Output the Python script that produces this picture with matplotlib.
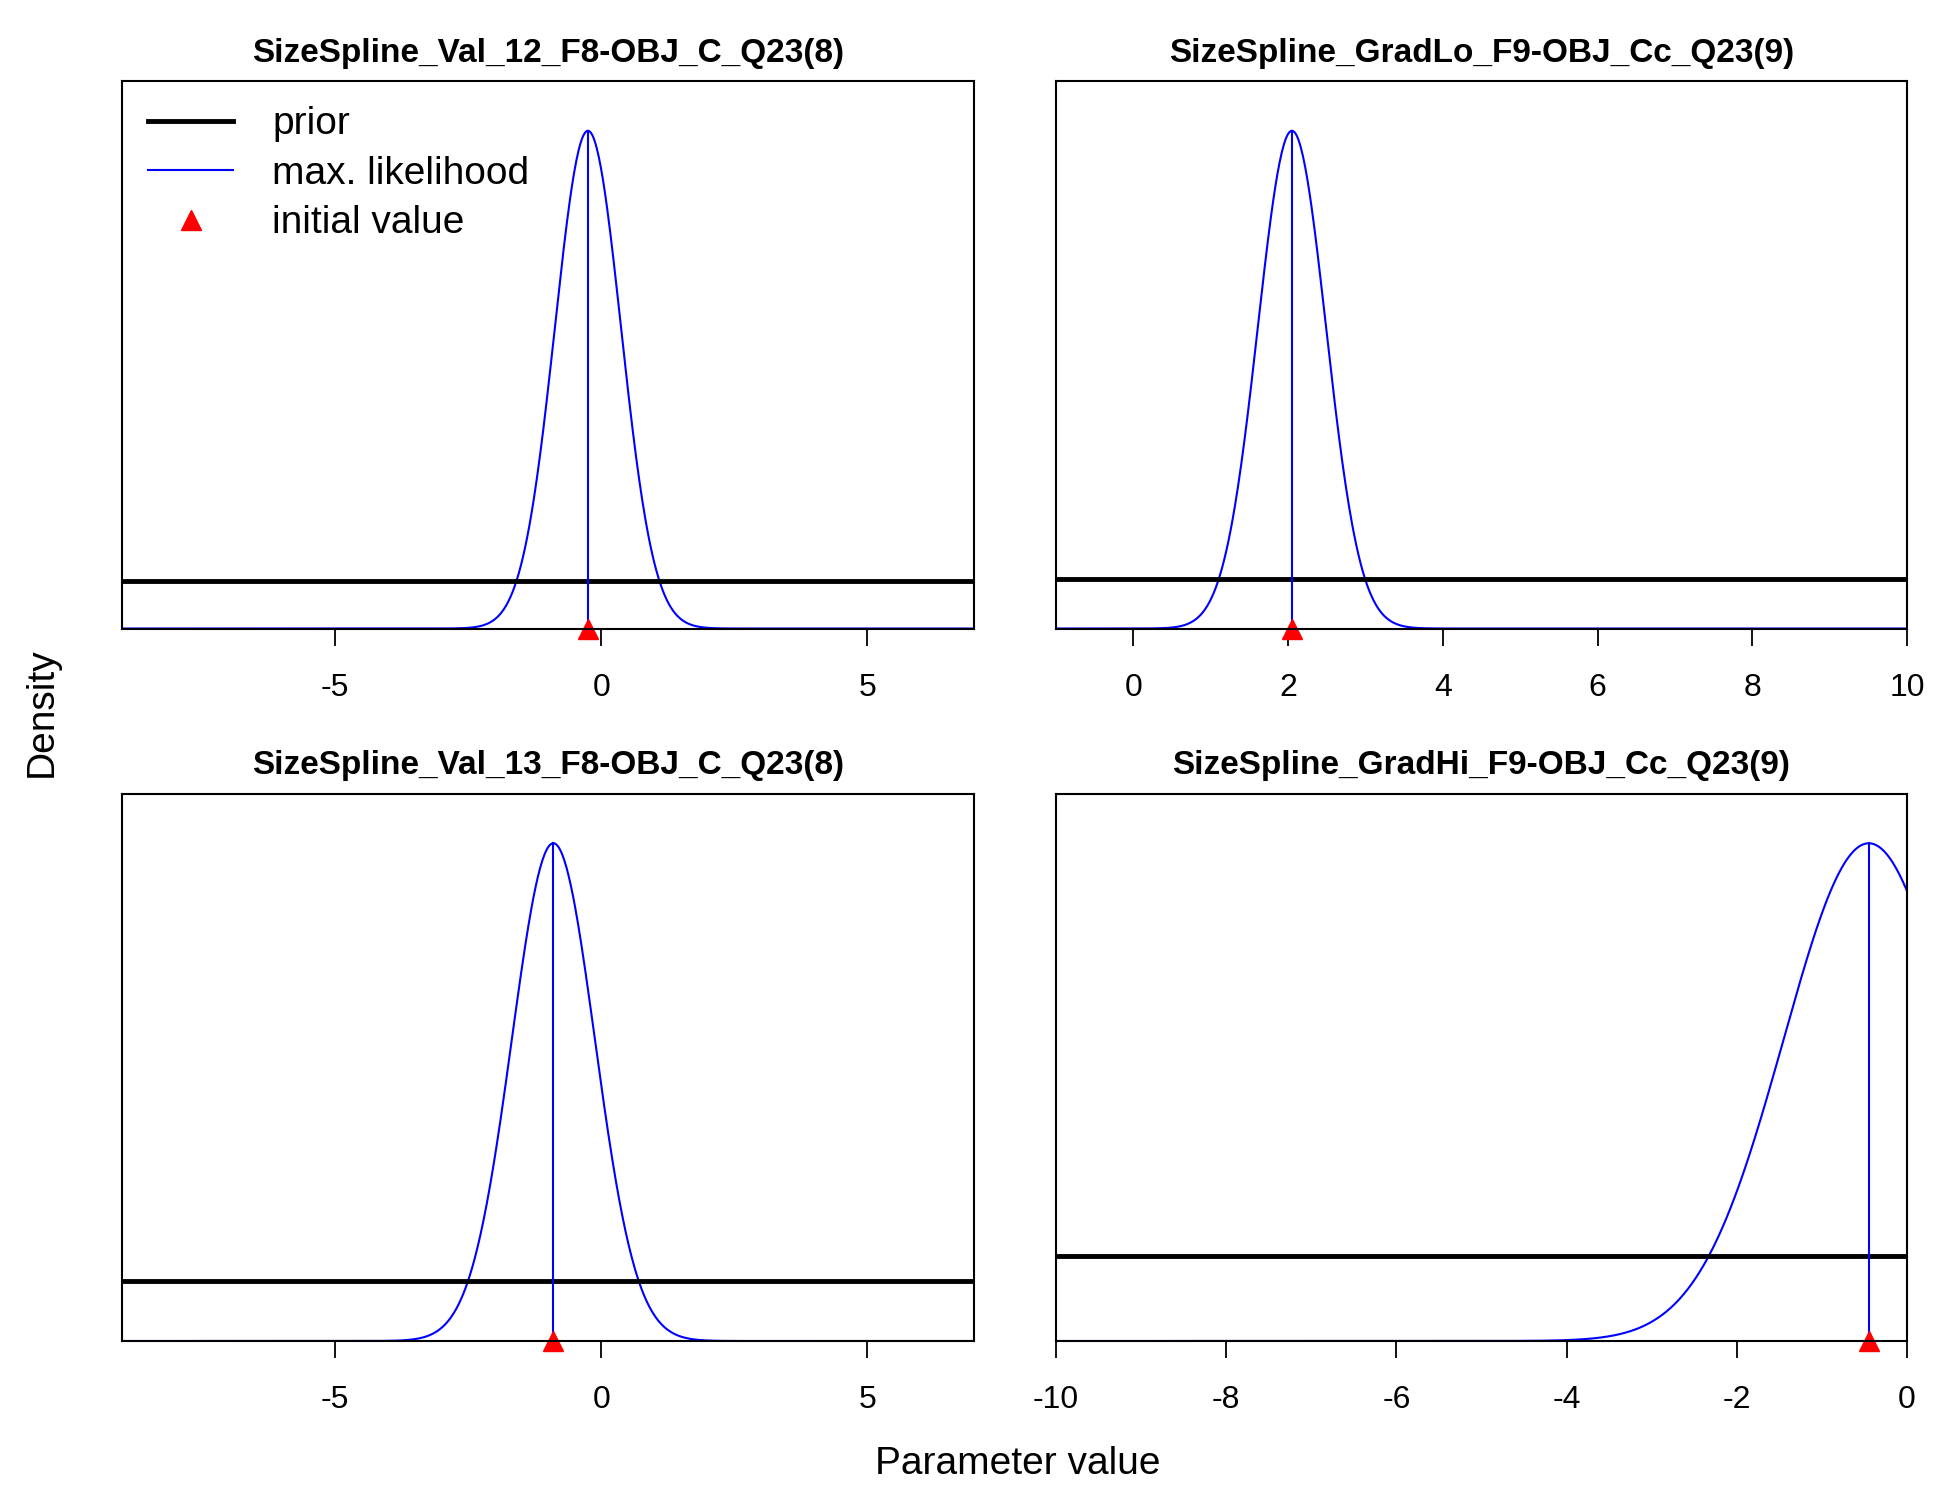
import numpy as np
import matplotlib
matplotlib.use("Agg")
import matplotlib.pyplot as plt

plt.rcParams['font.family'] = ['Liberation Sans', 'DejaVu Sans']
plt.rcParams['axes.unicode_minus'] = False

titles = ["SizeSpline_Val_12_F8-OBJ_C_Q23(8)", "SizeSpline_GradLo_F9-OBJ_Cc_Q23(9)",
          "SizeSpline_Val_13_F8-OBJ_C_Q23(8)", "SizeSpline_GradHi_F9-OBJ_Cc_Q23(9)"]
means = [-0.25, 2.05, -0.9, -0.45]
sds = [0.62, 0.44, 0.78, 1.0]
prior_levels = [0.095, 0.10, 0.12, 0.17]
initials = [-0.25, 2.05, -0.9, -0.45]
xlims = [(-9, 7), (-1, 10), (-9, 7), (-10, 0)]
xticks = [[-5, 0, 5], [0, 2, 4, 6, 8, 10], [-5, 0, 5], [-10, -8, -6, -4, -2, 0]]

fig = plt.figure(figsize=(19.5, 15), dpi=100)
boxes = [(0.0628, 0.581), (0.5415, 0.581), (0.0628, 0.106), (0.5415, 0.106)]
for i, (l, b) in enumerate(boxes):
    ax = fig.add_axes([l, b, 0.4365, 0.365])
    x = np.linspace(xlims[i][0], xlims[i][1], 800)
    y = np.exp(-0.5 * ((x - means[i]) / sds[i]) ** 2)
    ax.plot(x, y, color="blue", lw=1.5, label="max. likelihood")
    ax.axhline(prior_levels[i], color="black", lw=3.5, label="prior")
    ax.plot([means[i], means[i]], [0, 1], color="blue", lw=1.5)
    ax.plot([initials[i]], [0], marker="^", color="red", ms=14, ls="none",
            clip_on=False, label="initial value")
    ax.set_xlim(*xlims[i])
    ax.set_ylim(0, 1.1)
    ax.set_yticks([])
    ax.set_xticks(xticks[i])
    ax.tick_params(axis="x", labelsize=23, length=12, width=1.3, pad=20)
    for s in ax.spines.values():
        s.set_linewidth(1.5)
    ax.set_title(titles[i], fontsize=24, fontweight="bold", pad=14)
    if i == 0:
        h, lab = ax.get_legend_handles_labels()
        order = [1, 0, 2]
        ax.legend([h[k] for k in order], [lab[k] for k in order], loc="upper left",
                  frameon=False, fontsize=28, handlelength=2.2, borderaxespad=0.35,
                  labelspacing=0.35, handletextpad=1.0, borderpad=0.3)

fig.text(0.522, 0.017, "Parameter value", ha="center", fontsize=28)
fig.text(0.012, 0.525, "Density", va="center", rotation=90, fontsize=28)
fig.savefig("out.png", dpi=100)
